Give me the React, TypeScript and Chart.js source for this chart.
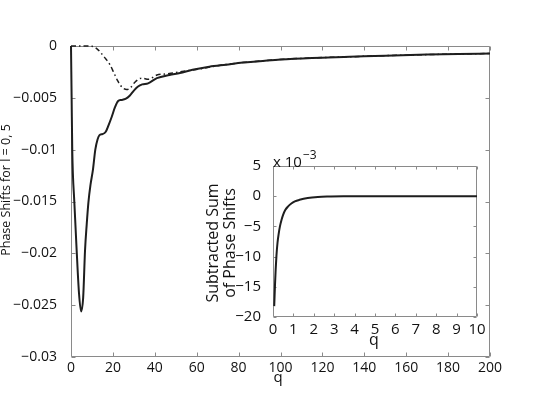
import React, { useEffect, useRef } from "react";
import { Chart, registerables } from "chart.js";

Chart.register(...registerables);

// ---- Main chart data ----
const solidQ = [0, 0.3, 0.6, 1.6, 2.7, 3.8, 4.8, 5.8, 6.7, 7.5, 8.3, 9.3, 10.5, 11.6, 12.7, 13.6, 15, 16.5, 18, 19.5, 21, 22.5, 24, 26, 28, 30, 32, 34, 36.8, 41, 47, 52, 58, 66, 74, 82, 90, 100, 115, 133, 150, 170, 185, 200];
const solidVals = [0, -0.005, -0.01, -0.0151, -0.0197, -0.0238, -0.0256, -0.0243, -0.0197, -0.0172, -0.0151, -0.0134, -0.0119, -0.01, -0.009, -0.0086, -0.0085, -0.0083, -0.0076, -0.0068, -0.0059, -0.0053, -0.0052, -0.0051, -0.0048, -0.0043, -0.0039, -0.0037, -0.0036, -0.0031, -0.0028, -0.0026, -0.0023, -0.002, -0.0018, -0.0016, -0.00147, -0.0013, -0.00115, -0.00104, -0.00093, -0.00083, -0.00077, -0.00072];
const dashQ = [0, 5, 10, 12, 14, 16, 18.6, 20.5, 22.4, 24.5, 26.6, 28.5, 30.5, 33.7, 37, 41, 45, 48.8, 55, 62, 70, 82, 90, 100, 115, 133, 150, 170, 185, 200];
const dashVals = [0, 0, -0.00003, -0.0002, -0.0006, -0.0011, -0.0018, -0.0026, -0.0034, -0.004, -0.0042, -0.004, -0.0035, -0.0031, -0.0032, -0.0028, -0.0027, -0.0026, -0.0024, -0.0022, -0.0019, -0.0016, -0.00145, -0.0013, -0.00115, -0.00104, -0.00093, -0.00083, -0.00077, -0.00072];
const mainXTicks = [0, 20, 40, 60, 80, 100, 120, 140, 160, 180, 200];
const mainYTicks = [0, -0.005, -0.01, -0.015, -0.02, -0.025, -0.03];

// ---- Inset data (units of 1e-3) ----
const insetQ = [0.06, 0.1, 0.13, 0.17, 0.22, 0.28, 0.34, 0.42, 0.5, 0.6, 0.74, 0.9, 1.07, 1.3, 1.7, 2.2, 2.7, 3.5, 4.5, 6, 8, 10];
const insetVals = [-18.2, -14.5, -12.2, -9.8, -7.75, -6.2, -5.0, -3.9, -3.06, -2.3, -1.69, -1.2, -0.86, -0.6, -0.3, -0.12, -0.05, -0.01, 0.0, 0, 0, 0];
const insetXTicks = [0, 1, 2, 3, 4, 5, 6, 7, 8, 9, 10];
const insetYTicks = [5, 0, -5, -10, -15, -20];

const FONT = "'Open Sans', 'DejaVu Sans', sans-serif";
const LINE = "#1e1e1e";
const FRAME = "#8a8a8a";
const TEXT = "#111";

const minus = (s: string) => s.replace(/-/g, "\u2212");

function framePlugin(tickLen: number) {
  return {
    id: "frame" + tickLen,
    beforeDatasetsDraw(chart: any) {
      const { ctx, chartArea: a, scales } = chart;
      ctx.save();
      ctx.strokeStyle = FRAME;
      ctx.lineWidth = 1;
      const L = Math.round(a.left) + 0.5;
      const R = Math.round(a.right) - 0.5;
      const T = Math.round(a.top) + 0.5;
      const B = Math.round(a.bottom) - 0.5;
      ctx.beginPath();
      ctx.rect(L, T, R - L, B - T);
      for (const t of scales.x.ticks) {
        const px = Math.round(scales.x.getPixelForValue(t.value)) + 0.5;
        ctx.moveTo(px, B);
        ctx.lineTo(px, B - tickLen);
        ctx.moveTo(px, T);
        ctx.lineTo(px, T + tickLen);
      }
      for (const t of scales.y.ticks) {
        const py = Math.round(scales.y.getPixelForValue(t.value)) + 0.5;
        ctx.moveTo(L, py);
        ctx.lineTo(L + tickLen, py);
        ctx.moveTo(R, py);
        ctx.lineTo(R - tickLen, py);
      }
      ctx.stroke();
      ctx.restore();
    },
  };
}

const mainTitles = {
  id: "mainTitles",
  afterDraw(chart: any) {
    const { ctx } = chart;
    ctx.save();
    ctx.fillStyle = TEXT;
    ctx.textAlign = "center";
    ctx.textBaseline = "middle";
    ctx.font = `15px ${FONT}`;
    ctx.fillText("q", 278, 378);
    ctx.translate(6, 190);
    ctx.rotate(-Math.PI / 2);
    ctx.font = `12.5px ${FONT}`;
    ctx.fillText("Phase Shifts for l = 0, 5", 0, 0);
    ctx.restore();
  },
};

const insetTitles = {
  id: "insetTitles",
  afterDraw(chart: any) {
    const { ctx, chartArea: a } = chart;
    ctx.save();
    ctx.fillStyle = TEXT;
    ctx.textBaseline = "middle";
    ctx.textAlign = "center";
    ctx.font = `16px ${FONT}`;
    ctx.fillText("q", 184, 200);
    ctx.save();
    ctx.translate(23.5, 103);
    ctx.rotate(-Math.PI / 2);
    ctx.fillText("Subtracted Sum", 0, 0);
    ctx.restore();
    ctx.save();
    ctx.translate(40, 103);
    ctx.rotate(-Math.PI / 2);
    ctx.fillText("of Phase Shifts", 0, 0);
    ctx.restore();
    ctx.textAlign = "left";
    ctx.textBaseline = "alphabetic";
    ctx.font = `15px ${FONT}`;
    ctx.fillText("x 10", a.left, a.top + 1);
    const w = ctx.measureText("x 10").width;
    ctx.font = `12px ${FONT}`;
    ctx.fillText("\u22123", a.left + w + 1, a.top - 7);
    ctx.restore();
  },
};

export default function App() {
  const mainRef = useRef<HTMLCanvasElement>(null);
  const insetRef = useRef<HTMLCanvasElement>(null);

  useEffect(() => {
    const main = new Chart(mainRef.current as HTMLCanvasElement, {
      type: "line",
      data: {
        datasets: [
          {
            data: solidQ.map((q, i) => ({ x: q, y: solidVals[i] })),
            borderColor: LINE,
            borderWidth: 2,
            pointRadius: 0,
            cubicInterpolationMode: "monotone",
            fill: false,
            clip: false,
          },
          {
            data: dashQ.map((q, i) => ({ x: q, y: dashVals[i] })),
            borderColor: LINE,
            borderWidth: 1.5,
            borderDash: [5, 3, 1.5, 3],
            pointRadius: 0,
            cubicInterpolationMode: "monotone",
            fill: false,
            clip: false,
          },
        ],
      },
      options: {
        animation: false,
        responsive: false,
        devicePixelRatio: 1,
        layout: { padding: { top: 46, right: 66, left: 0, bottom: 0 } },
        plugins: { legend: { display: false }, tooltip: { enabled: false } },
        scales: {
          x: {
            type: "linear",
            min: 0,
            max: 200,
            grid: { display: false },
            border: { display: false },
            ticks: { font: { family: FONT, size: 14 }, color: TEXT, padding: -5, maxRotation: 0, autoSkip: false },
            afterBuildTicks: (s: any) => { s.ticks = mainXTicks.map((v) => ({ value: v })); },
            afterFit: (s: any) => { s.height = 60; },
          },
          y: {
            type: "linear",
            min: -0.03,
            max: 0,
            grid: { display: false },
            border: { display: false },
            ticks: {
              font: { family: FONT, size: 14 },
              color: TEXT,
              padding: 6,
              autoSkip: false,
              callback: (v: any) => (v === 0 ? "0" : minus(String(+Number(v).toFixed(3)))),
            },
            afterBuildTicks: (s: any) => { s.ticks = mainYTicks.map((v) => ({ value: v })); },
            afterFit: (s: any) => { s.width = 71; },
          },
        },
      },
      plugins: [framePlugin(4), mainTitles],
    } as any);

    const inset = new Chart(insetRef.current as HTMLCanvasElement, {
      type: "line",
      data: {
        datasets: [
          {
            data: insetQ.map((q, i) => ({ x: q, y: insetVals[i] })),
            borderColor: LINE,
            borderWidth: 2,
            pointRadius: 0,
            cubicInterpolationMode: "monotone",
            fill: false,
            clip: false,
          },
        ],
      },
      options: {
        animation: false,
        responsive: false,
        devicePixelRatio: 1,
        layout: { padding: { top: 26, right: 13, left: 0, bottom: 0 } },
        plugins: { legend: { display: false }, tooltip: { enabled: false } },
        scales: {
          x: {
            type: "linear",
            min: 0,
            max: 10,
            grid: { display: false },
            border: { display: false },
            ticks: { font: { family: FONT, size: 15 }, color: TEXT, padding: -4, maxRotation: 0, autoSkip: false },
            afterBuildTicks: (s: any) => { s.ticks = insetXTicks.map((v) => ({ value: v })); },
            afterFit: (s: any) => { s.height = 33; },
          },
          y: {
            type: "linear",
            min: -20,
            max: 5,
            grid: { display: false },
            border: { display: false },
            ticks: {
              font: { family: FONT, size: 15 },
              color: TEXT,
              padding: 4,
              autoSkip: false,
              callback: (v: any) => minus(String(v)),
            },
            afterBuildTicks: (s: any) => { s.ticks = insetYTicks.map((v) => ({ value: v })); },
            afterFit: (s: any) => { s.width = 83; },
          },
        },
      },
      plugins: [framePlugin(3), insetTitles],
    } as any);

    return () => {
      main.destroy();
      inset.destroy();
    };
  }, []);

  return (
    <div style={{ position: "absolute", left: 0, top: 0, width: 556, height: 417, background: "#fff" }}>
      <canvas ref={mainRef} width={556} height={417} style={{ position: "absolute", left: 0, top: 0 }} />
      <canvas ref={insetRef} width={300} height={210} style={{ position: "absolute", left: 190, top: 140 }} />
    </div>
  );
}
